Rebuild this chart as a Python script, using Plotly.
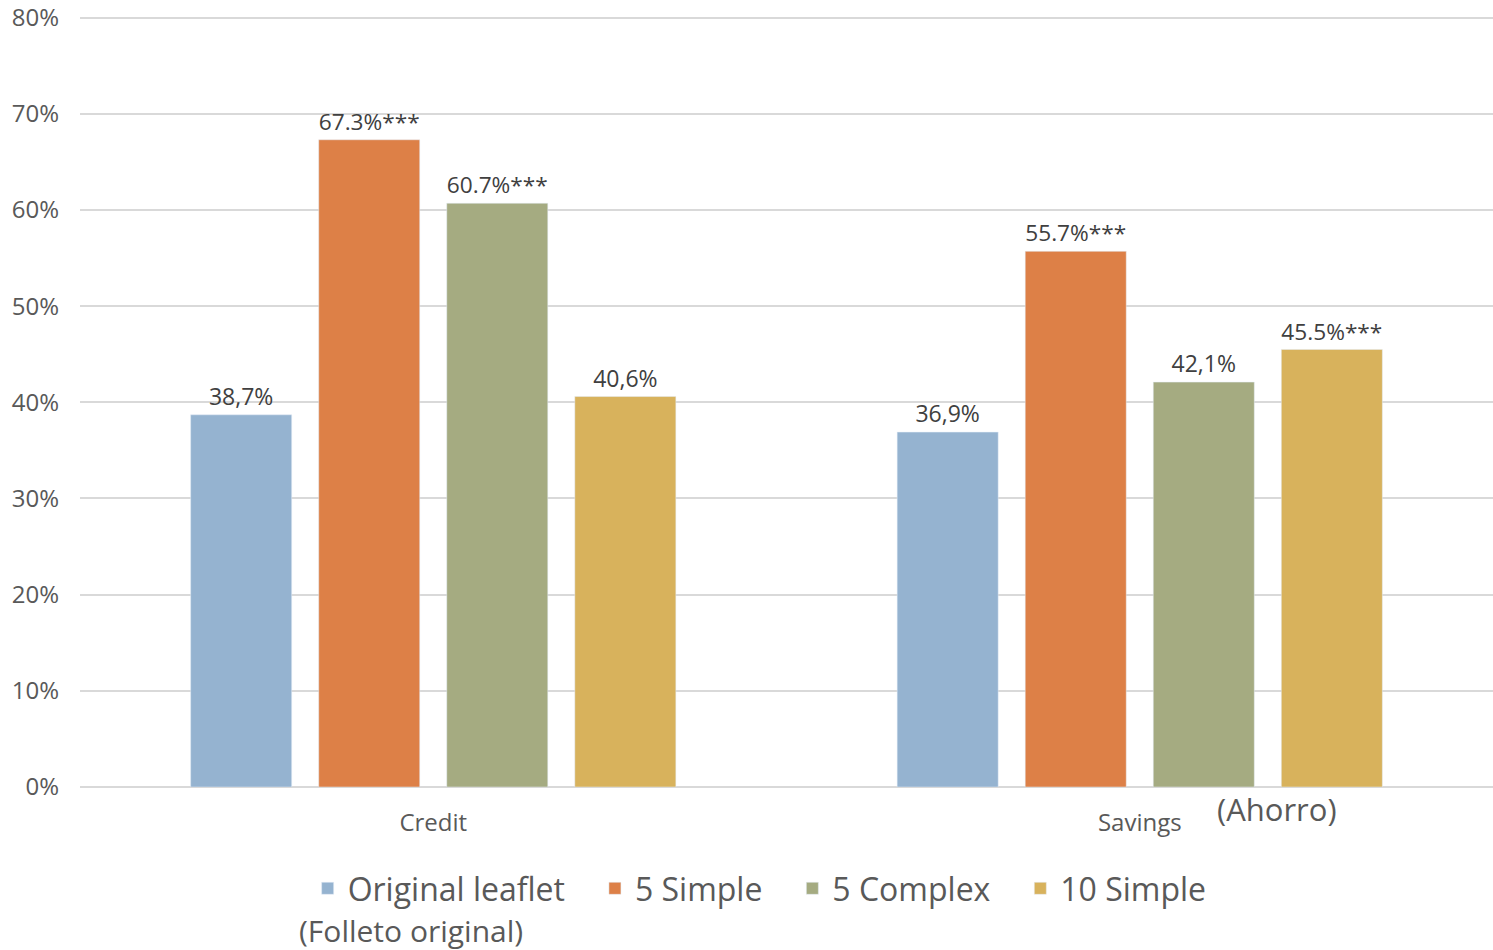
import plotly.graph_objects as go

categories = ["Credit", "Savings"]
series_names = ["Original leaflet", "5 Simple", "5 Complex", "10 Simple"]
series_values = [
    [0.387, 0.369],
    [0.673, 0.557],
    [0.607, 0.421],
    [0.406, 0.455],
]
series_labels = [
    ["38,7%", "36,9%"],
    ["67.3%***", "55.7%***"],
    ["60.7%***", "42,1%"],
    ["40,6%", "45.5%***"],
]
colors = ["#95B3D0", "#DD8047", "#A5AB81", "#D8B25C"]
tick_vals = [0, 0.1, 0.2, 0.3, 0.4, 0.5, 0.6, 0.7, 0.8]
tick_text = ["0%", "10%", "20%", "30%", "40%", "50%", "60%", "70%", "80%"]

FONT = "'Open Sans', Lato, sans-serif"
GREY = "#595959"
PAD = "\u00a0" * 3  # extra room between legend entries

Y_TOP = 0.81
PLOT_H = 772 / 0.8 * Y_TOP  # keep 0..80% spanning 772 px
TOP_MARGIN = 950 - 163 - PLOT_H

fig = go.Figure()
for i, (name, vals, labels, col) in enumerate(zip(series_names, series_values, series_labels, colors)):
    fig.add_trace(go.Bar(
        x=categories, y=vals, name=name + (PAD if i < len(series_names) - 1 else ""),
        marker_color=col,
        text=labels, textposition="outside", cliponaxis=False,
        textfont=dict(family=FONT, size=23, color="#404040"),
    ))

fig.update_layout(
    width=1493, height=950,
    margin=dict(l=80, r=0, t=TOP_MARGIN, b=163),
    paper_bgcolor="white", plot_bgcolor="white",
    barmode="group", bargap=0.275, bargroupgap=0.211,
    font=dict(family=FONT, color=GREY),
    showlegend=True,
    legend=dict(
        orientation="h", x=0.481, xanchor="center", y=-0.095, yanchor="top",
        font=dict(size=32, color=GREY, family=FONT),
        itemwidth=30, traceorder="normal",
    ),
)
fig.update_yaxes(
    range=[0, Y_TOP], tickvals=tick_vals, ticktext=tick_text,
    showgrid=True, gridcolor="#D9D9D9", gridwidth=2,
    zeroline=True, zerolinecolor="#D9D9D9", zerolinewidth=2,
    tickfont=dict(size=24, color=GREY, family=FONT), ticks="", ticklen=0,
    ticklabelstandoff=20, ticklabeloverflow="allow",
)
fig.update_xaxes(
    tickfont=dict(size=24, color=GREY, family=FONT), showline=False,
    ticklabelstandoff=19,
)

fig.add_annotation(
    text="(Ahorro)", xref="paper", yref="paper", x=0.847, y=-0.028,
    xanchor="center", yanchor="middle", showarrow=False,
    font=dict(size=31, color=GREY, family=FONT),
)
fig.add_annotation(
    text="(Folleto original)", xref="paper", yref="paper", x=0.234, y=-0.184,
    xanchor="center", yanchor="middle", showarrow=False,
    font=dict(size=30, color=GREY, family=FONT),
)

fig.write_html("out.html")
